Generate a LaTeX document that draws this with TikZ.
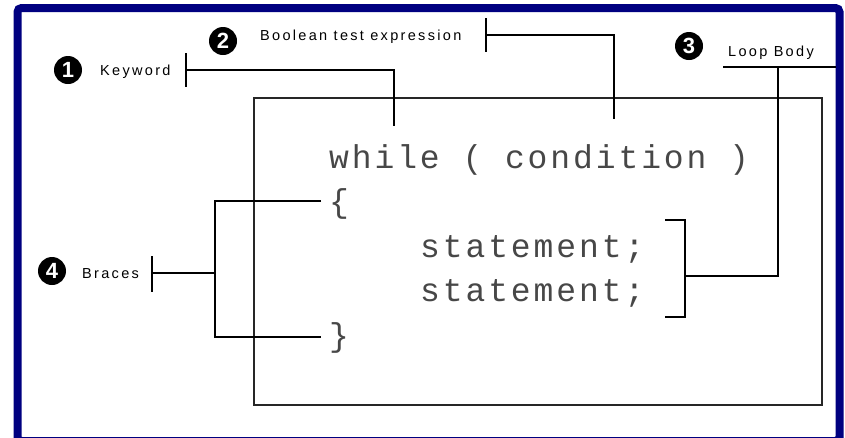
\documentclass[tikz,border=0pt]{standalone}
\usepackage{fontspec}
\setmainfont{Liberation Sans}
\newfontfamily\codefont[LetterSpace=8.8]{Liberation Mono}
\newfontfamily\lblfont[LetterSpace=16]{Liberation Sans}
\definecolor{framenavy}{RGB}{0,0,128}
\begin{document}
\begin{tikzpicture}[x=1pt,y=-1pt,
  lbl/.style={font=\lblfont\fontsize{14.5}{14.5}\selectfont, inner sep=0pt, anchor=base west},
  code/.style={font=\codefont\fontsize{33}{33}\selectfont, inner sep=0pt, anchor=base west, text=black!72},
  num/.style={circle, fill=black, text=white, inner sep=0pt, minimum size=28pt,
    font=\bfseries\fontsize{22}{22}\selectfont},
  conn/.style={draw=black, line width=1.3pt},
]
\useasboundingbox (0,0) rectangle (845,437);
\clip (0,0) rectangle (845,437);
\fill[white] (0,0) rectangle (845,437);
% frame
\draw[framenavy, line width=8pt, rounded corners=4pt] (17.5,8) rectangle (839.5,441);
% inner box
\node[draw=black!85, line width=1.5pt, inner sep=0pt, minimum width=568pt, minimum height=307pt, anchor=north west] (box) at (253,97) {};

% code
\node[code] (wh)  at (329,168)   {while ( condition )};
\node[code] (lb)  at (329,212.5) {\{};
\node[code] (st1) at (420,257)   {statement;};
\node[code] (st2) at (420,301.5) {statement;};
\node[code] (rb)  at (329,346)   {\}};

% labels and numbers
\node[num] (n1) at (68,70) {1};
\node[lbl] (kw) at (100,75.5) {Keyword};
\node[num] (n2) at (223,41) {2};
\node[lbl] (bt) at (260,40.5) {Boolean test expression};
\node[num] (n3) at (689,46) {3};
\node[lbl] (lbody) at (728,56) {Loop Body};
\node[num] (n4) at (52,271) {4};
\node[lbl] (br) at (82,278) {Braces};

% 1: Keyword
\coordinate (kwt) at (186,70);
\coordinate (kwend) at (394,126);
\draw[conn] (186,53) -- (186,87);
\draw[conn] (kwt) -| (kwend);
% 2: Boolean
\coordinate (btt) at (486,35);
\coordinate (btend) at (614,119);
\draw[conn] (486,18) -- (486,52);
\draw[conn] (btt) -| (btend);
% 3: Loop body
\coordinate (lbl3) at (723,67);
\coordinate (lbr3) at (836,67);
\coordinate (lbj) at (778,67);
\coordinate (brk) at (685,276);
\draw[conn] (lbl3) -- (lbr3);
\draw[conn] (lbj) |- (brk);
\draw[conn] (665,220) -- (685,220) -- (685,317) -- (665,317);
% 4: Braces
\coordinate (brt) at (152,273);
\coordinate (brj) at (215,273);
\draw[conn] (152,256) -- (152,292);
\draw[conn] (brt) -- (brj);
\draw[conn] (321,201) -- (215,201) -- (215,337) -- (321,337);
\end{tikzpicture}
\end{document}
